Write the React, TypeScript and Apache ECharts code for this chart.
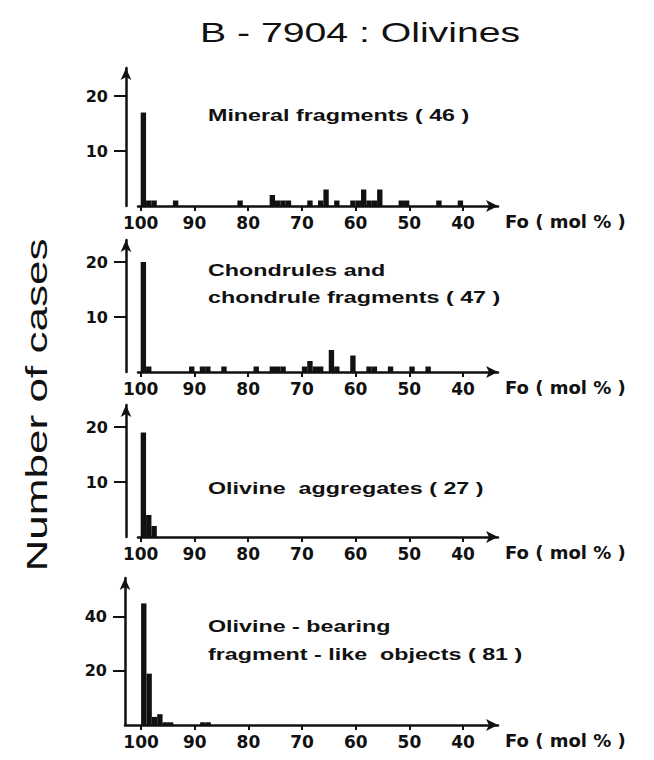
import React, { useEffect, useRef } from "react";
import * as echarts from "echarts";

// ---- data ----
const TITLE = "B - 7904 : Olivines";
const Y_NAME = "Number of cases";
const X_NAME = "Fo ( mol % )";
const FO_TICKS = [100, 90, 80, 70, 60, 50, 40];
const BIN_WIDTH = 1;

const MINERAL_FO = [100, 99, 98, 94, 82, 76, 75, 74, 73, 69, 67, 66, 64, 61, 60, 59, 58, 57, 56, 52, 51, 45, 41];
const MINERAL_N = [17, 1, 1, 1, 1, 2, 1, 1, 1, 1, 1, 3, 1, 1, 1, 3, 1, 1, 3, 1, 1, 1, 1];
const MINERAL_LABEL = ["Mineral fragments ( 46 )"];
const MINERAL_YTICKS = [10, 20];

const CHONDRULE_FO = [100, 99, 91, 89, 88, 85, 79, 76, 75, 74, 70, 69, 68, 67, 65, 64, 61, 58, 57, 54, 50, 47];
const CHONDRULE_N = [20, 1, 1, 1, 1, 1, 1, 1, 1, 1, 1, 2, 1, 1, 4, 1, 3, 1, 1, 1, 1, 1];
const CHONDRULE_LABEL = ["Chondrules and", "chondrule fragments ( 47 )"];
const CHONDRULE_YTICKS = [10, 20];

const AGGREGATE_FO = [100, 99, 98];
const AGGREGATE_N = [19, 4, 2];
const AGGREGATE_LABEL = ["Olivine  aggregates ( 27 )"];
const AGGREGATE_YTICKS = [10, 20];

const BEARING_FO = [100, 99, 98, 97, 96, 95, 89, 88];
const BEARING_N = [45, 19, 3, 4, 1, 1, 1, 1];
const BEARING_LABEL = ["Olivine - bearing", "fragment - like  objects ( 81 )"];
const BEARING_YTICKS = [20, 40];

// ---- layout (positions only) ----
const RIGHT = 498;
const LAYOUT = [
  { top: 68, base: 206, left: 138, xMax: 100.5, yOff: 12, yMax: 25.1, textY: [115] },
  { top: 240, base: 372, left: 138, xMax: 100.5, yOff: 12, yMax: 24, textY: [270, 297] },
  { top: 405, base: 537, left: 138, xMax: 100.5, yOff: 12, yMax: 24, textY: [488] },
  { top: 578, base: 725, left: 125, xMax: 103, yOff: 0, yMax: 54.4, textY: [626, 654] },
];
const X_MIN = 33.5;

const PANELS = [
  { fo: MINERAL_FO, n: MINERAL_N, label: MINERAL_LABEL, yTicks: MINERAL_YTICKS },
  { fo: CHONDRULE_FO, n: CHONDRULE_N, label: CHONDRULE_LABEL, yTicks: CHONDRULE_YTICKS },
  { fo: AGGREGATE_FO, n: AGGREGATE_N, label: AGGREGATE_LABEL, yTicks: AGGREGATE_YTICKS },
  { fo: BEARING_FO, n: BEARING_N, label: BEARING_LABEL, yTicks: BEARING_YTICKS },
];

const INK = "#111";
const AXIS_FONT = "DejaVu Sans";

export default function App() {
  const ref = useRef<HTMLDivElement>(null);

  useEffect(() => {
    const chart = echarts.init(ref.current as HTMLDivElement, null, { renderer: "svg" });

    const grid: any[] = [];
    const xAxis: any[] = [];
    const yAxis: any[] = [];
    const series: any[] = [];
    const graphic: any[] = [];

    PANELS.forEach((p, i) => {
      const L = LAYOUT[i];
      grid.push({ left: L.left, top: L.top, width: RIGHT - L.left, height: L.base - L.top, containLabel: false });
      xAxis.push({
        type: "value",
        gridIndex: i,
        inverse: true,
        min: X_MIN,
        max: L.xMax,
        name: X_NAME,
        nameLocation: "start",
        nameGap: 7,
        nameTextStyle: {
          fontFamily: AXIS_FONT,
          fontWeight: "bold",
          fontSize: 18,
          color: INK,
          verticalAlign: "top",
          padding: [6, 0, 0, 0],
        },
        axisLine: {
          show: true,
          onZero: false,
          symbol: ["none", "arrow"],
          symbolSize: [9, 12],
          lineStyle: { color: INK, width: 2.5 },
        },
        axisTick: { show: true, inside: false, length: 5, customValues: FO_TICKS, lineStyle: { color: INK, width: 2 } },
        axisLabel: {
          show: true,
          customValues: FO_TICKS,
          margin: 8,
          fontFamily: AXIS_FONT,
          fontWeight: "bold",
          fontSize: 17,
          color: INK,
        },
        splitLine: { show: false },
      });
      yAxis.push({
        type: "value",
        gridIndex: i,
        min: 0,
        max: L.yMax,
        offset: L.yOff,
        axisLine: {
          show: true,
          onZero: false,
          symbol: ["none", "arrow"],
          symbolSize: [8, 12],
          lineStyle: { color: INK, width: 2.5 },
        },
        axisTick: { show: true, inside: false, length: 12, customValues: p.yTicks, lineStyle: { color: INK, width: 2 } },
        axisLabel: {
          show: true,
          customValues: p.yTicks,
          margin: 18,
          fontFamily: AXIS_FONT,
          fontWeight: "bold",
          fontSize: 16,
          color: INK,
        },
        splitLine: { show: false },
      });
      series.push({
        type: "custom",
        xAxisIndex: i,
        yAxisIndex: i,
        encode: { x: 0, y: 1 },
        data: p.fo.map((f, k) => [f, p.n[k]]),
        renderItem: (_params: any, api: any) => {
          const fo = api.value(0) as number;
          const n = api.value(1) as number;
          const a = api.coord([fo, n]);
          const b = api.coord([fo - BIN_WIDTH, 0]);
          return {
            type: "rect",
            shape: {
              x: Math.min(a[0], b[0]),
              y: a[1],
              width: Math.abs(b[0] - a[0]),
              height: b[1] - a[1],
            },
            style: { fill: INK },
          };
        },
      });
      p.label.forEach((line, k) => {
        graphic.push({
          type: "text",
          x: 208,
          y: L.textY[k],
          scaleX: 1.37,
          style: {
            text: line,
            font: "bold 17px 'Liberation Sans', Arial, sans-serif",
            fill: INK,
            align: "left",
            verticalAlign: "middle",
            textAlign: "left",
            textVerticalAlign: "middle",
          },
        });
      });
    });

    graphic.push({
      type: "text",
      x: 360,
      y: 32,
      scaleX: 1.4,
      style: {
        text: TITLE,
        font: "28px 'Liberation Sans', Arial, sans-serif",
        fill: INK,
        align: "center",
        verticalAlign: "middle",
        textAlign: "center",
        textVerticalAlign: "middle",
      },
    });
    graphic.push({
      type: "text",
      x: 37,
      y: 405,
      rotation: Math.PI / 2,
      scaleX: 1.47,
      style: {
        text: Y_NAME,
        font: "30px 'Liberation Sans', Arial, sans-serif",
        fill: INK,
        align: "center",
        verticalAlign: "middle",
        textAlign: "center",
        textVerticalAlign: "middle",
      },
    });

    chart.setOption({
      animation: false,
      backgroundColor: "#fff",
      grid,
      xAxis,
      yAxis,
      series,
      graphic,
    });

    return () => chart.dispose();
  }, []);

  return (
    <div
      ref={ref}
      style={{ position: "fixed", left: 0, top: 0, width: 654, height: 760, background: "#fff" }}
    />
  );
}
